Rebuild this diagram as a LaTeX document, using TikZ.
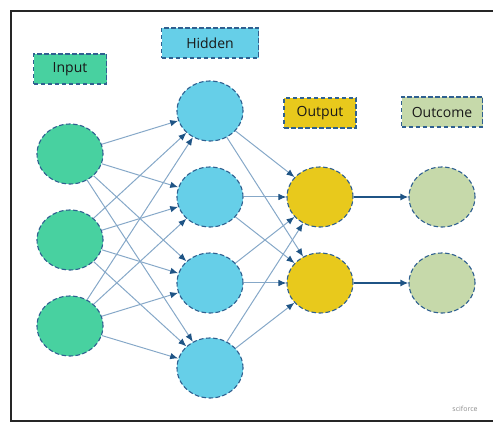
\documentclass[tikz,border=0pt]{standalone}
\usepackage{fontspec}
\setmainfont{Open Sans}
\usepackage{tikz}
\usetikzlibrary{shapes.geometric}
\usetikzlibrary{arrows.meta}
\definecolor{inputgreen}{HTML}{48D1A0}
\definecolor{hiddenblue}{HTML}{66CFE8}
\definecolor{outputyellow}{HTML}{E8C91C}
\definecolor{outcomegreen}{HTML}{C6D9AA}
\definecolor{borderblue}{HTML}{2F6090}
\definecolor{edgeblue}{HTML}{86A8C8}
\definecolor{tipblue}{HTML}{1F5485}
\tikzset{unit/.style={ellipse,draw=borderblue,dash pattern=on 4.5pt off 2.5pt,line width=1.1pt,minimum width=66pt,minimum height=60pt,inner sep=0}}
\tikzset{layer label/.style={rectangle,draw=borderblue,dash pattern=on 4.5pt off 2.5pt,line width=1.1pt,minimum height=30pt,inner sep=0,text=black!90,font=\fontsize{14}{16}\selectfont}}
\tikzset{link/.style={-{Latex[length=8pt,width=6.5pt,color=tipblue]},draw=edgeblue,line width=1pt}}
\tikzset{result link/.style={-{Latex[length=8pt,width=7pt]},draw=tipblue,line width=2pt}}

\begin{document}
\begin{tikzpicture}[x=1pt,y=-1pt]
        \useasboundingbox (0,0) rectangle (493,427);

          %枠
          \draw[line width=2.4pt, black!85] (493,11) -- (11,11) -- (11,421) -- (493,421);

          %層のラベル
          \node[layer label, fill=inputgreen, minimum width=73pt] (input label) at (70,69) {Input};
          \node[layer label, fill=hiddenblue, minimum width=97pt] (hidden label) at (210,43) {Hidden};
          \node[layer label, fill=outputyellow, minimum width=72pt] (output label) at (320,113) {Output};
          \node[layer label, fill=outcomegreen, minimum width=81pt] (outcome label) at (442,112) {Outcome};

          %入力層
          \node[unit, fill=inputgreen] (i1) at (70,154) {};
          \node[unit, fill=inputgreen] (i2) at (70,240) {};
          \node[unit, fill=inputgreen] (i3) at (70,326) {};

          %隠れ層
          \node[unit, fill=hiddenblue] (h1) at (210,111) {};
          \node[unit, fill=hiddenblue] (h2) at (210,197) {};
          \node[unit, fill=hiddenblue] (h3) at (210,283) {};
          \node[unit, fill=hiddenblue] (h4) at (210,368) {};

          %出力層
          \node[unit, fill=outputyellow] (o1) at (320,197) {};
          \node[unit, fill=outputyellow] (o2) at (320,283) {};

          %結果
          \node[unit, fill=outcomegreen] (r1) at (442,197) {};
          \node[unit, fill=outcomegreen] (r2) at (442,283) {};

          %入力->隠れ
          \foreach \i in {1,2,3}
            \foreach \h in {1,2,3,4}
              \draw[link] (i\i) -- (h\h);

          %隠れ->出力
          \foreach \h in {1,2,3,4}
            \foreach \o in {1,2}
              \draw[link] (h\h) -- (o\o);

          %出力->結果
          \draw[result link] (o1) -- (r1);
          \draw[result link] (o2) -- (r2);

          %ロゴ
          \node[text=black!45, font=\fontsize{7}{8}\selectfont] (logo) at (465,409) {sciforce};

        \end{tikzpicture}
\end{document}
